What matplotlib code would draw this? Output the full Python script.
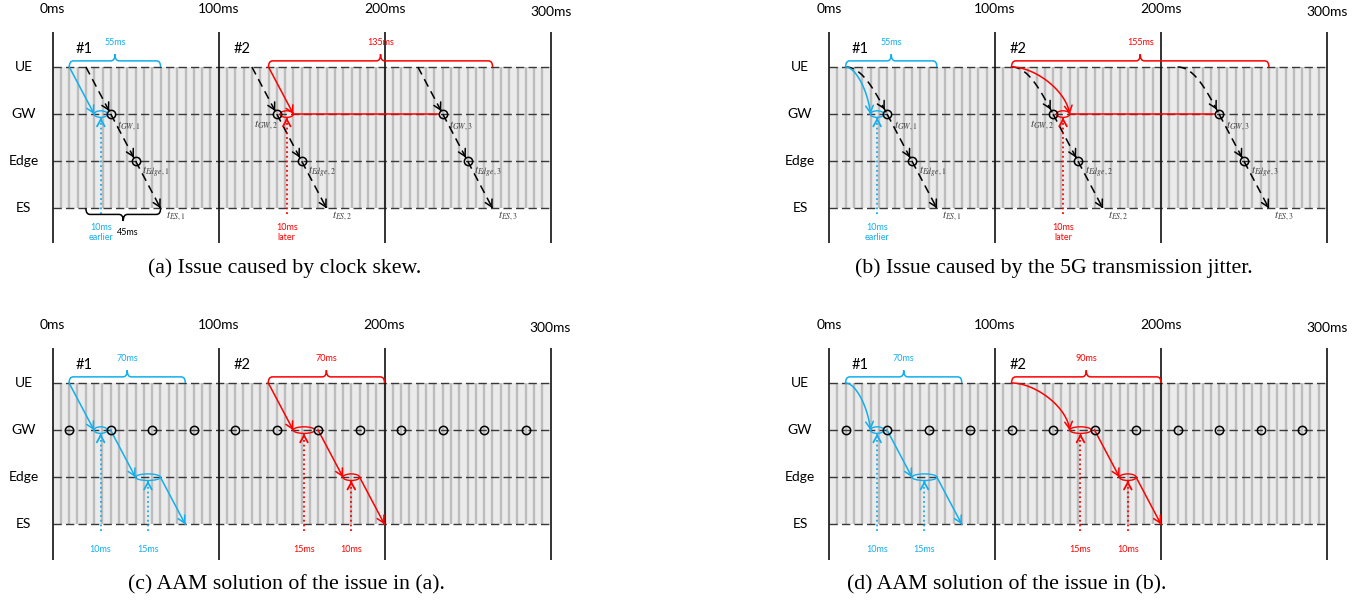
import numpy as np
import matplotlib.pyplot as plt
from matplotlib.path import Path
from matplotlib.patches import PathPatch, Ellipse, Rectangle

plt.rcParams['font.family'] = ['Lato', 'DejaVu Sans']
plt.rcParams['mathtext.fontset'] = 'stix'

W, H = 1365, 601
PX_MS = 1.66
PX_ROW = 47.1

BLUE = '#12aeee'
RED = '#ff0000'
GREY_TXT = '#3a3a3a'
DASH = (0, (5.5, 3.5))
DOTS = (0, (1, 1.6))
HEAD = '->,head_length=0.45,head_width=0.25'

ROWS = ['UE', 'GW', 'Edge', 'ES']
TIME_TICKS = [0, 100, 200, 300]
SLOT_STEP = 5
GW_SLOTS = [10, 35, 60, 85, 110, 135, 160, 185, 210, 235, 260, 285]

# black packet traces: UE, GW, Edge, ES timestamps
TRACE_A = [[20, 35, 50, 65], [120, 135, 150, 165], [220, 235, 250, 265]]
TRACE_B = [[10, 35, 50, 65], [110, 135, 150, 165], [210, 235, 250, 265]]

# frames #1 (blue) and #2 (red): UE send, GW arrival
A_BLUE = [10, 25]
A_RED = [130, 145]
B_BLUE = [10, 25]
B_RED = [110, 145]
RED_MATCH_SLOT = 235

# AAM: UE send, GW in, GW out, Edge in, Edge out, ES in
C_BLUE = [10, 25, 35, 50, 65, 80]
C_RED = [130, 145, 160, 175, 185, 200]
D_BLUE = [10, 25, 35, 50, 65, 80]
D_RED = [110, 145, 160, 175, 185, 200]

CAPTIONS = ['(a) Issue caused by clock skew.',
            '(b) Issue caused by the 5G transmission jitter.',
            '(c) AAM solution of the issue in (a).',
            '(d) AAM solution of the issue in (b).']


def panel(fig, origin, box):
    ox, oy = origin
    l, t, r, b = box
    ax = fig.add_axes([l / W, 1 - b / H, (r - l) / W, (b - t) / H])
    ax.set_xlim((l - ox) / PX_MS, (r - ox) / PX_MS)
    ax.set_ylim((b - oy) / PX_ROW, (t - oy) / PX_ROW)
    ax.axis('off')
    return ax


def backdrop(ax, bottom):
    ax.add_patch(Rectangle((0, 0), 300, 3, fc='#ebebeb', ec='none', zorder=0))
    ax.vlines(np.arange(SLOT_STEP, 300, SLOT_STEP), 0, 3, color='#bdbdbd', lw=1.7, zorder=1)
    for i in range(len(ROWS)):
        ax.plot([0, 300], [i, i], color='#383838', lw=1.0, ls=(0, (6, 3)), zorder=2)
    ax.vlines(TIME_TICKS, -0.745, bottom, color='#111111', lw=1.2, zorder=3)
    for t in TIME_TICKS:
        ax.text(t, -1.23 if t < 300 else -1.17, f'{t}ms', ha='center', va='center', fontsize=10)
    for i, name in enumerate(ROWS):
        ax.text(-17.5, i, name, ha='center', va='center', fontsize=10)
    ax.text(19, -0.38, '#1', ha='center', va='center', fontsize=10.5)
    ax.text(114, -0.38, '#2', ha='center', va='center', fontsize=10.5)


def arrow(ax, p0, p1, color, ls='-', lw=1.1, lean=None, stop=1.0):
    p0, p1 = np.array(p0, float), np.array(p1, float)
    s = np.linspace(0, 1, 81)[:, None]
    if lean is None:
        pts = p0 + s * (p1 - p0)
    else:
        dt = p1[0] - p0[0]
        c1 = np.array([p0[0] + 0.4 * dt, p0[1]])
        c2 = np.array([p1[0] - lean, p1[1] - 0.5])
        pts = ((1 - s) ** 3 * p0 + 3 * (1 - s) ** 2 * s * c1
               + 3 * (1 - s) * s ** 2 * c2 + s ** 3 * p1)
    ax.plot(pts[:, 0], pts[:, 1], color=color, ls=ls, lw=lw, zorder=5)
    k = int(round(stop * 80))
    ax.annotate('', xy=pts[k], xytext=pts[k - 2],
                arrowprops=dict(arrowstyle=HEAD, color=color, lw=lw,
                                shrinkA=0, shrinkB=0, mutation_scale=11), zorder=6)


def hold(ax, lo, hi, row, color):
    ax.add_patch(Ellipse(((lo + hi) / 2, row), hi - lo, 0.14, fill=False,
                         ec=color, lw=1.0, zorder=6))


def gap(ax, x, row, color, text, r_from, r_text):
    arrow(ax, (x, r_from), (x, row + 0.075), color, ls=DOTS, lw=1.3)
    ax.text(x, r_text, text, ha='center', va='top', fontsize=6.5, color=color, linespacing=1.15)


def brace(ax, t0, t1, base, color, label, up=True, lab_dx=0):
    sg = -1 if up else 1
    bar, tip = base + sg * 0.13, base + sg * 0.27
    m = (t0 + t1) / 2
    rx = 2.5
    verts = [(t0, base), (t0, bar), (t0 + rx, bar), (m - rx, bar), (m, bar), (m, tip),
             (m, bar), (m + rx, bar), (t1 - rx, bar), (t1, bar), (t1, base)]
    codes = [Path.MOVETO, Path.CURVE3, Path.CURVE3, Path.LINETO, Path.CURVE3, Path.CURVE3,
             Path.CURVE3, Path.CURVE3, Path.LINETO, Path.CURVE3, Path.CURVE3]
    ax.add_patch(PathPatch(Path(verts, codes), fill=False, ec=color, lw=1.1, zorder=6))
    ax.text(m + lab_dx, base + sg * 0.52, label, ha='center', va='center',
            fontsize=6.5, color=color)


def traces(ax, runs, curved):
    for k, (ue, gw, edge, es) in enumerate(runs, start=1):
        arrow(ax, (ue, 0), (gw, 1), 'k', ls=DASH, lean=7.5 if curved else None, stop=0.94)
        arrow(ax, (gw, 1), (edge, 2), 'k', ls=DASH, stop=0.93)
        arrow(ax, (edge, 2), (es, 3), 'k', ls=DASH)
        ax.plot([gw, edge], [1, 2], 'o', mfc='none', mec='k', ms=6, mew=1.1, zorder=7)
        if k == 2:
            ax.text(gw + 0.5, 1.24, rf'$t_{{GW,{k}}}$', ha='right', va='center',
                    fontsize=8, color=GREY_TXT)
        else:
            ax.text(gw + 4, 1.26, rf'$t_{{GW,{k}}}$', ha='left', va='center',
                    fontsize=8, color=GREY_TXT)
        ax.text(edge + 4, 2.24, rf'$t_{{Edge,{k}}}$', ha='left', va='center',
                fontsize=8, color=GREY_TXT)
        ax.text(es + 3, 3.16, rf'$t_{{ES,{k}}}$', ha='left', va='center',
                fontsize=8, color=GREY_TXT)


def issue(ax, runs, blue, red, curved):
    traces(ax, runs, curved)
    # frame #1 arrives early at GW
    g1 = runs[0][1]
    arrow(ax, (blue[0], 0), (blue[1], 1), BLUE, lean=1.5 if curved else None)
    hold(ax, blue[1], g1 - 2, 1, BLUE)
    gap(ax, (blue[1] + g1 - 2) / 2, 1, BLUE, f'{g1 - blue[1]}ms\nearlier', 3.12, 3.32)
    brace(ax, blue[0], runs[0][3], 0, BLUE, f'{runs[0][3] - blue[0]}ms')
    # frame #2 arrives late and is matched to the next slot
    g2 = runs[1][1]
    arrow(ax, (red[0], 0), (red[1], 1), RED, lean=2 if curved else None)
    hold(ax, g2 + 2, red[1], 1, RED)
    gap(ax, (g2 + 2 + red[1]) / 2, 1, RED, f'{red[1] - g2}ms\nlater', 3.12, 3.32)
    ax.plot([red[1], RED_MATCH_SLOT - 2.4], [1, 1], color=RED, lw=1.1, zorder=5)
    brace(ax, red[0], runs[2][3], 0, RED, f'{runs[2][3] - red[0]}ms')


def aam(ax, hops, color, curved):
    ue, gw_in, gw_out, edge_in, edge_out, es = hops
    arrow(ax, (ue, 0), (gw_in, 1), color, lean=1.5 if curved else None)
    hold(ax, gw_in, gw_out - 2, 1, color)
    arrow(ax, (gw_out, 1), (edge_in, 2), color)
    hold(ax, edge_in, edge_out, 2, color)
    arrow(ax, (edge_out, 2), (es, 3), color)
    gap(ax, (gw_in + gw_out - 2) / 2, 1, color, f'{gw_out - gw_in}ms', 3.15, 3.45)
    gap(ax, (edge_in + edge_out) / 2, 2, color, f'{edge_out - edge_in}ms', 3.15, 3.45)
    brace(ax, ue, es, 0, color, f'{es - ue}ms')


fig = plt.figure(figsize=(W / 100, H / 100), dpi=100)

ax_a = panel(fig, (52.7, 67), (0, 0, 680, 290))
ax_b = panel(fig, (829, 67), (690, 0, 1365, 290))
ax_c = panel(fig, (52.5, 383), (0, 300, 680, 601))
ax_d = panel(fig, (829, 383), (690, 300, 1365, 601))

for ax in (ax_a, ax_b):
    backdrop(ax, 3.745)
for ax in (ax_c, ax_d):
    backdrop(ax, 3.76)

issue(ax_a, TRACE_A, A_BLUE, A_RED, curved=False)
brace(ax_a, TRACE_A[0][0], TRACE_A[0][3], 3, 'k',
      f'{TRACE_A[0][3] - TRACE_A[0][0]}ms', up=False, lab_dx=3)
issue(ax_b, TRACE_B, B_BLUE, B_RED, curved=True)

for ax, blue, red, curved in ((ax_c, C_BLUE, C_RED, False), (ax_d, D_BLUE, D_RED, True)):
    ax.plot(GW_SLOTS, [1] * len(GW_SLOTS), 'o', mfc='none', mec='k', ms=6, mew=1.1, zorder=7)
    aam(ax, blue, BLUE, curved)
    aam(ax, red, RED, curved)

for text, (x, y) in zip(CAPTIONS, [(285, 268), (1054, 268), (286, 585), (1007, 585)]):
    fig.text(x / W, 1 - y / H, text, ha='center', va='center',
             family='Liberation Serif', fontsize=15.7)

fig.savefig('out.png', dpi=100)
